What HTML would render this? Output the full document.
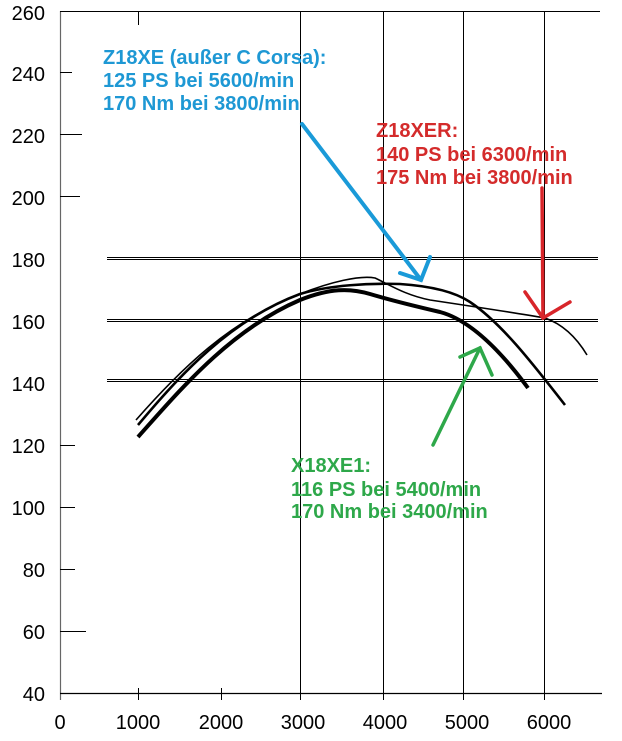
<!DOCTYPE html>
<html><head><meta charset="utf-8"><style>
html,body{margin:0;padding:0;background:#fff;}
svg{display:block;}
text{font-family:"Liberation Sans",Arial,sans-serif;}
.t{font-size:20px;fill:#000;}
.lab{font-size:20px;font-weight:bold;}
</style></head><body>
<svg width="622" height="741" viewBox="0 0 622 741" xmlns="http://www.w3.org/2000/svg">
<rect width="622" height="741" fill="#fff"/>
<line x1="60.5" y1="11" x2="60.5" y2="700" stroke="#666" stroke-width="1.2"/>
<line x1="60" y1="11.5" x2="600" y2="11.5" stroke="#000" stroke-width="1"/>
<line x1="138.5" y1="11" x2="138.5" y2="25" stroke="#000"/>
<line x1="60" y1="693.5" x2="602" y2="693.5" stroke="#000" stroke-width="1.2"/>
<g stroke="#000" stroke-width="1">
<line x1="60" y1="72.5" x2="72" y2="72.5"/>
<line x1="60" y1="134.5" x2="82" y2="134.5"/>
<line x1="60" y1="196.5" x2="80" y2="196.5"/>
<line x1="60" y1="445.5" x2="75" y2="445.5"/>
<line x1="60" y1="507.5" x2="75" y2="507.5"/>
<line x1="60" y1="569.5" x2="75" y2="569.5"/>
<line x1="60" y1="631.5" x2="86" y2="631.5"/>
<line x1="138.5" y1="688" x2="138.5" y2="700"/>
<line x1="221.5" y1="688" x2="221.5" y2="700"/>
<line x1="300.5" y1="11" x2="300.5" y2="700"/>
<line x1="383.5" y1="11" x2="383.5" y2="700"/>
<line x1="463.5" y1="11" x2="463.5" y2="700"/>
<line x1="544.5" y1="11" x2="544.5" y2="700"/>
<line x1="107" y1="257.5" x2="598" y2="257.5"/><line x1="107" y1="259.5" x2="598" y2="259.5"/>
<line x1="107" y1="319.5" x2="598" y2="319.5"/><line x1="107" y1="321.5" x2="598" y2="321.5"/>
<line x1="107" y1="379.5" x2="598" y2="379.5"/><line x1="107" y1="381.5" x2="598" y2="381.5"/>
</g>
<g class="t" text-anchor="end">
<text x="45" y="20">260</text><text x="45" y="81">240</text><text x="45" y="143">220</text>
<text x="45" y="205">200</text><text x="45" y="267">180</text><text x="45" y="329">160</text>
<text x="45" y="391">140</text><text x="45" y="453">120</text><text x="45" y="515">100</text>
<text x="45" y="577">80</text><text x="45" y="639">60</text><text x="45" y="701">40</text>
</g>
<g class="t" text-anchor="middle">
<text x="60" y="729">0</text><text x="138" y="729">1000</text><text x="221" y="729">2000</text>
<text x="303" y="729">3000</text><text x="385" y="729">4000</text><text x="467" y="729">5000</text><text x="549" y="729">6000</text>
</g>
<path d="M138,437 C180,390 230,330 300,300 C330,288 350,288 370,294 C390,300 410,305 440,312 C470,320 500,350 528,388" fill="none" stroke="#000" stroke-width="4"/>
<path d="M138,425 C180,375 230,320 300,294 C330,285 370,283 400,284 C430,286 455,292 470,302 C500,322 530,360 565,405" fill="none" stroke="#000" stroke-width="2.6"/>
<path d="M136,420 C180,370 230,320 300,294 C330,282 360,275 375,278 C390,285 405,295 430,300 C470,306 510,312 545,318 C565,325 578,340 587,355" fill="none" stroke="#000" stroke-width="1.6"/>
<g stroke="#1a9ad8" stroke-width="4" fill="none" stroke-linecap="round">
<line x1="302" y1="124" x2="421" y2="280"/>
<polyline points="400,273 421,280 430,257"/>
</g>
<g stroke="#d8252a" stroke-width="3.5" fill="none" stroke-linecap="round">
<line x1="542" y1="188" x2="543" y2="318"/>
<polyline points="525,292 543,318 570,302"/>
</g>
<g stroke="#2ea84a" stroke-width="3.5" fill="none" stroke-linecap="round">
<line x1="433" y1="445" x2="480" y2="348"/>
<polyline points="460,357 480,348 492,375"/>
</g>
<g class="lab" fill="#1e98d4">
<text x="103" y="64">Z18XE (außer C Corsa):</text>
<text x="103" y="87">125 PS bei 5600/min</text>
<text x="103" y="110">170 Nm bei 3800/min</text>
</g>
<g class="lab" fill="#d42b2b">
<text x="376" y="137">Z18XER:</text>
<text x="376" y="161">140 PS bei 6300/min</text>
<text x="376" y="184">175 Nm bei 3800/min</text>
</g>
<g class="lab" fill="#2ea84a">
<text x="291" y="472">X18XE1:</text>
<text x="291" y="496">116 PS bei 5400/min</text>
<text x="291" y="518">170 Nm bei 3400/min</text>
</g>
</svg>
</body></html>
